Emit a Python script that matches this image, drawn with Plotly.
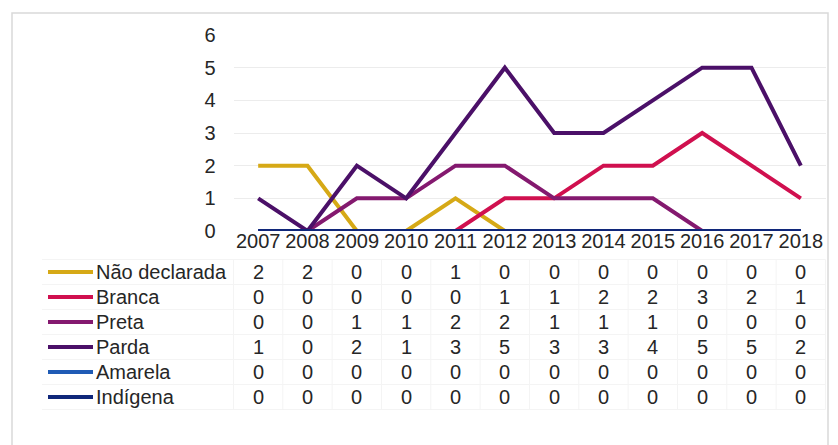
import plotly.graph_objects as go

years = ["2007", "2008", "2009", "2010", "2011", "2012", "2013", "2014", "2015", "2016", "2017", "2018"]
series_names = ["Não declarada", "Branca", "Preta", "Parda", "Amarela", "Indígena"]
nao_declarada = [2, 2, 0, 0, 1, 0, 0, 0, 0, 0, 0, 0]
branca = [0, 0, 0, 0, 0, 1, 1, 2, 2, 3, 2, 1]
preta = [0, 0, 1, 1, 2, 2, 1, 1, 1, 0, 0, 0]
parda = [1, 0, 2, 1, 3, 5, 3, 3, 4, 5, 5, 2]
amarela = [0, 0, 0, 0, 0, 0, 0, 0, 0, 0, 0, 0]
indigena = [0, 0, 0, 0, 0, 0, 0, 0, 0, 0, 0, 0]
y_ticks = [0, 1, 2, 3, 4, 5, 6]

values = [nao_declarada, branca, preta, parda, amarela, indigena]
colors = ["#D6A916", "#D0104F", "#84196F", "#4B1068", "#1F5BB5", "#10277A"]

W, H = 838, 445
px_l, px_r = 233.5, 825.5
py_top, py_bot = 35, 231

def px(x):
    return x / W

def py(y):
    return 1 - y / H

FONT = "Liberation Sans, Arial, sans-serif"
FS = 20

fig = go.Figure()
for name, vals, col in zip(series_names, values, colors):
    fig.add_trace(go.Scatter(
        x=years, y=vals, mode="lines", name=name,
        line=dict(color=col, width=4, shape="linear"),
        cliponaxis=False, showlegend=False, hoverinfo="skip",
    ))

shapes = []
annotations = []

# outer chart border
shapes.append(dict(type="rect", xref="paper", yref="paper",
                   x0=px(12), x1=px(828), y0=py(460), y1=py(13),
                   line=dict(color="#d9d9d9", width=1.5), fillcolor="rgba(0,0,0,0)", layer="below"))

# data table
row0 = 272
row_h = 25
col_w = (px_r - px_l) / len(years)
for i in range(len(series_names) + 1):
    yy = row0 - row_h / 2 + i * row_h
    shapes.append(dict(type="line", xref="paper", yref="paper",
                       x0=px(42), x1=px(px_r), y0=py(yy), y1=py(yy),
                       line=dict(color="#f4f4f4", width=1)))
for j in range(len(years) + 1):
    xx = px_l + j * col_w
    shapes.append(dict(type="line", xref="paper", yref="paper",
                       x0=px(xx), x1=px(xx), y0=py(row0 - row_h / 2), y1=py(row0 - row_h / 2 + 6 * row_h),
                       line=dict(color="#f4f4f4", width=1)))

for i, (name, vals, col) in enumerate(zip(series_names, values, colors)):
    yc = row0 + i * row_h
    shapes.append(dict(type="line", xref="paper", yref="paper",
                       x0=px(48), x1=px(93), y0=py(yc), y1=py(yc),
                       line=dict(color=col, width=4)))
    annotations.append(dict(xref="paper", yref="paper", x=px(94), y=py(yc),
                            text=name, showarrow=False, xanchor="left", yanchor="middle",
                            font=dict(family=FONT, size=FS, color="#262626")))
    for j, v in enumerate(vals):
        annotations.append(dict(xref="x", yref="paper", x=j, y=py(yc),
                                text=str(v), showarrow=False, xanchor="center", yanchor="middle",
                                font=dict(family=FONT, size=FS, color="#262626")))

fig.update_layout(
    width=W, height=H,
    margin=dict(l=0, r=0, t=0, b=0, pad=0),
    paper_bgcolor="white", plot_bgcolor="white",
    shapes=shapes, annotations=annotations,
    xaxis=dict(domain=[px(px_l), px(px_r)], type="category", categoryorder="array",
               categoryarray=years, range=[-0.5, len(years) - 0.5], automargin=False,
               showgrid=False, zeroline=False, showline=False,
               ticks="", ticklabelstandoff=-4,
               tickfont=dict(family=FONT, size=FS, color="#262626"), fixedrange=True),
    yaxis=dict(domain=[py(py_bot), py(py_top)], range=[0, 6], tickvals=y_ticks, automargin=False,
               showgrid=True, gridcolor="#ececec", gridwidth=1, zeroline=False, showline=False,
               ticks="outside", ticklen=13, tickcolor="rgba(0,0,0,0)",
               tickfont=dict(family=FONT, size=FS, color="#262626"), fixedrange=True),
    showlegend=False,
)

fig.write_html("out.html", config={"displayModeBar": False, "staticPlot": True},
               post_script="document.body.style.margin='0px';document.body.style.overflow='hidden';")
